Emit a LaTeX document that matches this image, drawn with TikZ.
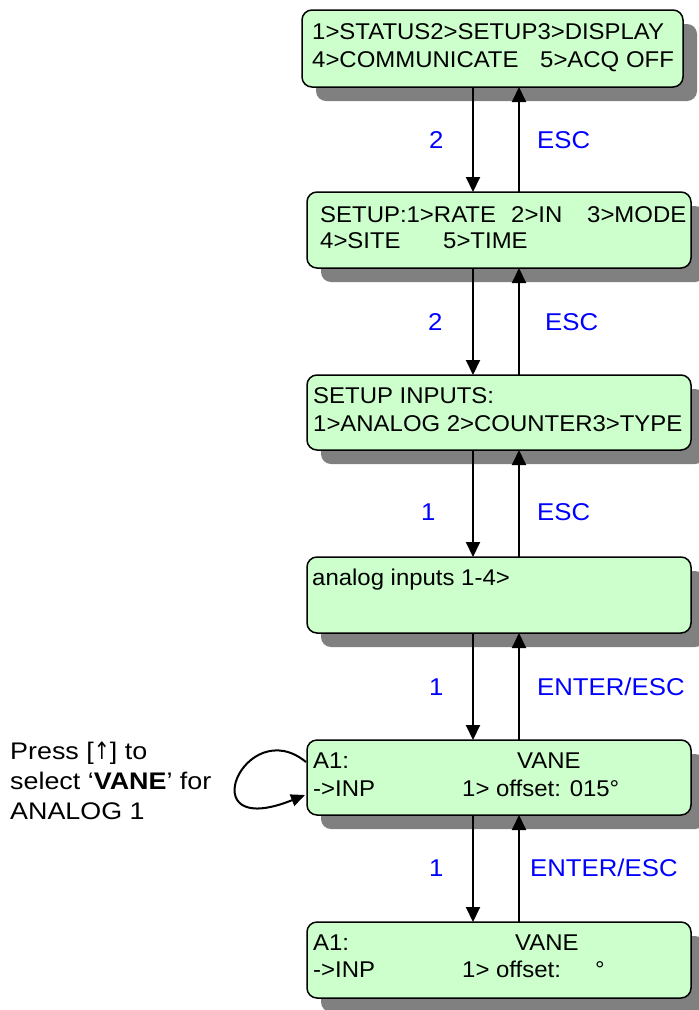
\documentclass[tikz,border=0pt]{standalone}
\usepackage{fontspec}
\setmainfont{Liberation Sans}
\newfontfamily\boxfont[FakeStretch=1.05]{Liberation Sans}
\newfontfamily\lblfont[FakeStretch=1.06]{Liberation Sans}
\newfontfamily\notefont[FakeStretch=1.12]{Liberation Sans}
\newfontfamily\arrowfont[FakeStretch=0.8]{DejaVu Sans}
\usetikzlibrary{shadows,arrows.meta}
\definecolor{boxgreen}{RGB}{204,255,204}
\definecolor{shadowgray}{RGB}{128,128,128}
\definecolor{lblblue}{RGB}{0,0,255}
\tikzset{
  screen/.style={draw=black, line width=1.5pt, fill=boxgreen, rounded corners=10pt,
    minimum width=384pt, minimum height=76pt, inner sep=0pt, outer sep=0pt, anchor=north west,
    drop shadow={shadow xshift=14pt, shadow yshift=-14pt, fill=shadowgray, opacity=1}},
  txt/.style={anchor=base west, inner sep=0pt, font=\boxfont\fontsize{22.8}{27}\selectfont},
  lbl/.style={anchor=base west, inner sep=0pt, text=lblblue, font=\lblfont\fontsize{24.3}{28}\selectfont},
  note/.style={anchor=base west, inner sep=0pt, font=\notefont\fontsize{24}{30}\selectfont},
  arr/.style={line width=2pt, -{Triangle[length=15pt,width=14pt]}},
}
\begin{document}
\begin{tikzpicture}[x=1pt,y=-1pt]
\useasboundingbox (0,0) rectangle (699,1010);
% boxes
\node[screen, minimum width=381pt, minimum height=77pt] (b1) at (302,10) {};
\node[screen] (b2) at (307,192) {};
\node[screen, minimum height=75pt] (b3) at (307,375) {};
\node[screen] (b4) at (307,557) {};
\node[screen, minimum height=75pt] (b5) at (307,740) {};
\node[screen] (b6) at (307,922) {};
% box texts
\node[txt] (t1a) at (312,39) {1>STATUS2>SETUP3>DISPLAY};
\node[txt] (t1b) at (312,67) {4>COMMUNICATE};
\node[txt] (t1c) at (540,67) {5>ACQ OFF};
\node[txt] (t2a) at (320,222) {SETUP:1>RATE};
\node[txt] (t2b) at (511,222) {2>IN};
\node[txt] (t2c) at (587,222) {3>MODE};
\node[txt] (t2d) at (320,248) {4>SITE};
\node[txt] (t2e) at (443,248) {5>TIME};
\node[txt] (t3a) at (313,403) {SETUP INPUTS:};
\node[txt] (t3b) at (313,431) {1>ANALOG 2>COUNTER3>TYPE};
\node[txt] (t4a) at (312,585) {analog inputs 1-4>};
\node[txt] (t5a) at (313,768) {A1:};
\node[txt] (t5b) at (517,768) {VANE};
\node[txt] (t5c) at (313,796) {->INP};
\node[txt] (t5d) at (462,796) {1> offset: 015°};
\node[txt] (t6a) at (313,950) {A1:};
\node[txt] (t6b) at (515,950) {VANE};
\node[txt] (t6c) at (313,977) {->INP};
\node[txt] (t6d) at (462,977) {1> offset:};
\node[txt] (t6e) at (595,977) {°};
% connector x positions
\coordinate (dx) at (473,0);
\coordinate (ux) at (519,0);
\draw[arr] (b1.south -| dx) -- (b2.north -| dx);
\draw[arr] (b2.north -| ux) -- (b1.south -| ux);
\draw[arr] (b2.south -| dx) -- (b3.north -| dx);
\draw[arr] (b3.north -| ux) -- (b2.south -| ux);
\draw[arr] (b3.south -| dx) -- (b4.north -| dx);
\draw[arr] (b4.north -| ux) -- (b3.south -| ux);
\draw[arr] (b4.south -| dx) -- (b5.north -| dx);
\draw[arr] (b5.north -| ux) -- (b4.south -| ux);
\draw[arr] (b5.south -| dx) -- (b6.north -| dx);
\draw[arr] (b6.north -| ux) -- (b5.south -| ux);
% labels
\node[lbl] (l1a) at (429,148) {2};
\node[lbl] (l1b) at (537,148) {ESC};
\node[lbl] (l2a) at (428,330) {2};
\node[lbl] (l2b) at (545,330) {ESC};
\node[lbl] (l3a) at (421,520) {1};
\node[lbl] (l3b) at (537,520) {ESC};
\node[lbl] (l4a) at (429,695) {1};
\node[lbl] (l4b) at (537,695) {ENTER/ESC};
\node[lbl] (l5a) at (429,876) {1};
\node[lbl] (l5b) at (530,876) {ENTER/ESC};
% self loop
\coordinate (ls) at (306,762);
\coordinate (le) at (305,795);
\draw[line width=2pt, -{Triangle[length=14pt,width=12pt]}] (ls) .. controls (245,712) and (188,842) .. (le);
% note
\node[note] (n1) at (10,759) {Press [{\arrowfont\fontsize{24}{30}\selectfont ↑}] to};
\node[note] (n2) at (10,789) {select ‘\textbf{VANE}’ for};
\node[note] (n3) at (10,819) {ANALOG 1};
\end{tikzpicture}
\end{document}
